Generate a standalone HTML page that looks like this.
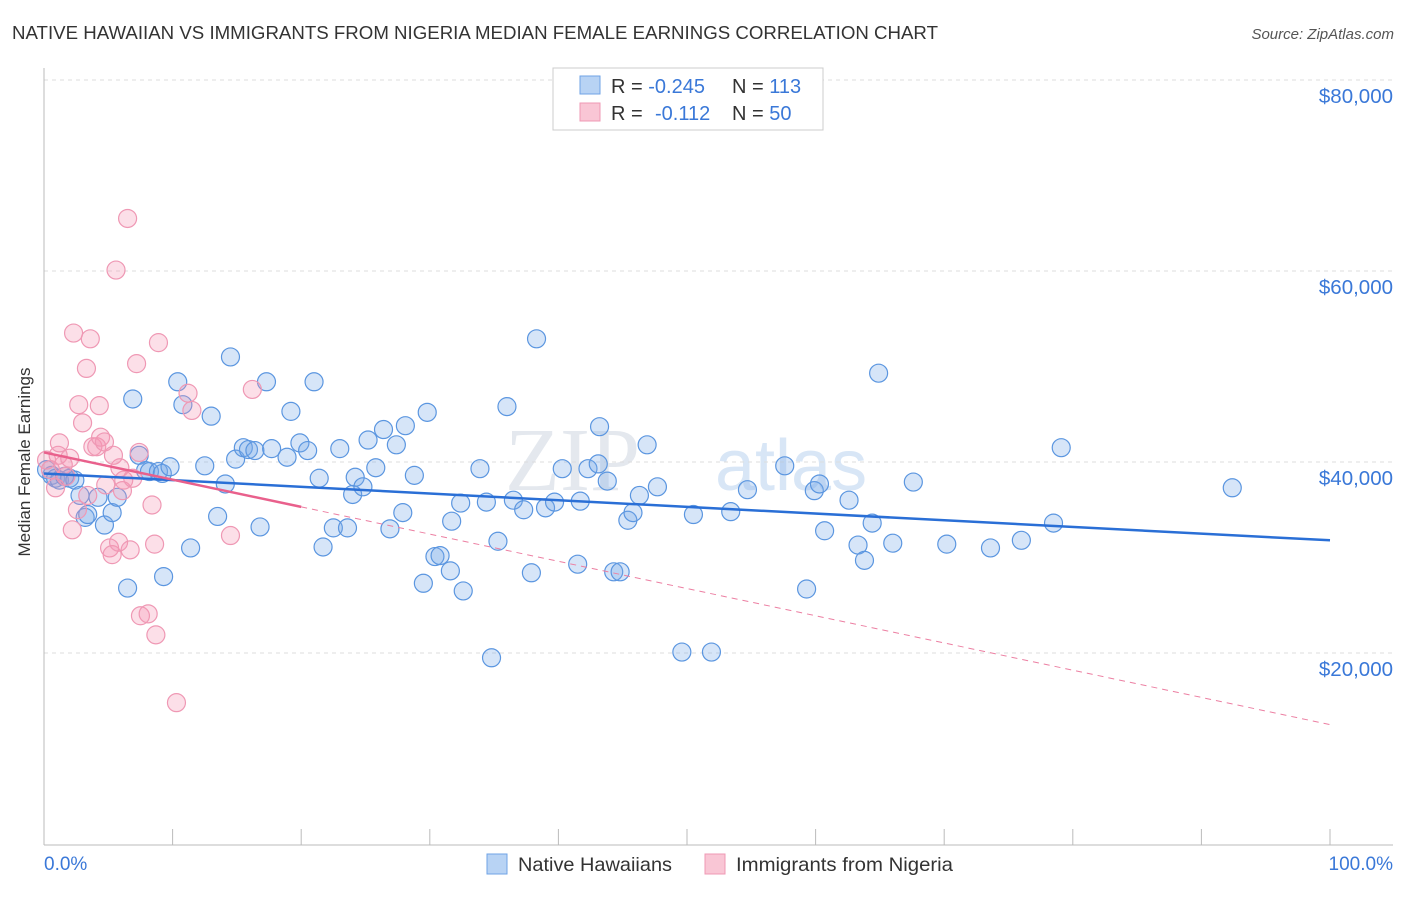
<!DOCTYPE html>
<html><head><meta charset="utf-8"><style>
body{margin:0;background:#fff;font-family:"Liberation Sans",sans-serif;}
</style></head><body>
<svg id="c" width="1406" height="892" xmlns="http://www.w3.org/2000/svg" style="font-family:'Liberation Sans',sans-serif">
<text x="12" y="39" font-size="18" fill="#333" textLength="926" lengthAdjust="spacingAndGlyphs">NATIVE HAWAIIAN VS IMMIGRANTS FROM NIGERIA MEDIAN FEMALE EARNINGS CORRELATION CHART</text>
<text x="1394" y="39" font-size="15" fill="#555" font-style="italic" text-anchor="end">Source: ZipAtlas.com</text>
<text x="640" y="490" font-size="90" fill="#e4e8ee" text-anchor="end" font-family="Liberation Serif">ZIP</text>
<text x="715" y="490" font-size="72" fill="#d8e6f6">atlas</text>
<g id="grid"></g>
<line x1="44" y1="68" x2="44" y2="845" stroke="#bbb"/>
<line x1="44" y1="845" x2="1393" y2="845" stroke="#bbb"/>
<g id="ticks"></g>
<g id="pts"></g>
<g id="lines"></g>
<text x="24" y="456" font-size="17" fill="#333" text-anchor="middle" transform="rotate(-90 30 456)">Median Female Earnings</text>
<text x="44" y="870" font-size="19" fill="#3a78d8">0.0%</text>
<text x="1393" y="870" font-size="19" fill="#3a78d8" text-anchor="end">100.0%</text>
<g>
<rect x="553" y="68" width="270" height="62" fill="#fff" stroke="#ccc"/>
<rect x="580" y="76" width="20" height="18" fill="#b8d3f4" stroke="#6fa3e6"/>
<rect x="580" y="103" width="20" height="18" fill="#f9c6d5" stroke="#ef98b4"/>
<text x="611" y="93" font-size="20" fill="#333">R = <tspan fill="#3a78d8">-0.245</tspan><tspan x="732">N = </tspan><tspan fill="#3a78d8">113</tspan></text>
<text x="611" y="120" font-size="20" fill="#333">R = <tspan x="655" fill="#3a78d8">-0.112</tspan><tspan x="732">N = </tspan><tspan fill="#3a78d8">50</tspan></text>
</g>
<g>
<rect x="487" y="854" width="20" height="20" fill="#b8d3f4" stroke="#6fa3e6"/>
<text x="518" y="871" font-size="19.5" fill="#333" textLength="154" lengthAdjust="spacingAndGlyphs">Native Hawaiians</text>
<rect x="705" y="854" width="20" height="20" fill="#f9c6d5" stroke="#ef98b4"/>
<text x="736" y="871" font-size="19.5" fill="#333" textLength="217" lengthAdjust="spacingAndGlyphs">Immigrants from Nigeria</text>
</g>
</svg>
<script>
const yTicks=[20000,40000,60000,80000];
const yTickLabels=["$20,000","$40,000","$60,000","$80,000"];
const blueX=[0.2,0.6,0.9,1.2,1.6,2.0,2.4,2.8,3.2,3.4,4.2,4.7,5.3,5.7,6.5,6.9,7.4,7.9,8.2,8.9,9.2,9.3,9.8,10.4,10.8,11.4,12.5,13.0,13.5,14.1,14.5,14.9,15.5,15.9,16.4,16.8,17.3,17.7,18.9,19.2,19.9,20.5,21.0,21.4,21.7,22.5,23.0,23.6,24.0,24.2,24.8,25.2,25.8,26.4,26.9,27.4,27.9,28.1,28.8,29.5,29.8,30.4,30.8,31.6,31.7,32.4,32.6,33.9,34.4,34.8,35.3,36.0,36.5,37.3,37.9,38.3,39.0,39.7,40.3,41.5,41.7,42.3,43.1,43.2,43.8,44.3,44.8,45.4,45.8,46.3,46.9,47.7,49.6,50.5,51.9,53.4,54.7,57.6,59.3,59.9,60.3,60.7,62.6,63.3,63.8,64.4,64.9,66.0,67.6,70.2,73.6,76.0,78.5,79.1,92.4];
const blueY=[39.2,38.6,38.3,38.1,38.5,38.3,38.1,36.5,34.2,34.5,36.3,33.4,34.7,36.3,26.8,46.6,40.7,39.1,39.0,39.0,38.8,28.0,39.5,48.4,46.0,31.0,39.6,44.8,34.3,37.7,51.0,40.3,41.5,41.3,41.2,33.2,48.4,41.4,40.5,45.3,42.0,41.2,48.4,38.3,31.1,33.1,41.4,33.1,36.6,38.4,37.4,42.3,39.4,43.4,33.0,41.8,34.7,43.8,38.6,27.3,45.2,30.1,30.2,28.6,33.8,35.7,26.5,39.3,35.8,19.5,31.7,45.8,36.0,35.0,28.4,52.9,35.2,35.8,39.3,29.3,35.9,39.3,39.8,43.7,38.0,28.5,28.5,33.9,34.7,36.5,41.8,37.4,20.1,34.5,20.1,34.8,37.1,39.6,26.7,37.0,37.7,32.8,36.0,31.3,29.7,33.6,49.3,31.5,37.9,31.4,31.0,31.8,33.6,41.5,37.3];
const pinkX=[0.2,0.5,0.9,1.1,1.2,1.5,1.7,2.0,2.2,2.3,2.6,2.7,3.0,3.3,3.4,3.6,3.8,4.1,4.3,4.4,4.7,4.8,5.1,5.3,5.4,5.6,5.8,5.9,6.1,6.2,6.5,6.7,6.9,7.2,7.4,7.5,8.1,8.4,8.6,8.7,8.9,10.3,11.2,11.5,14.5,16.2];
const pinkY=[40.2,39.2,37.3,40.7,42.0,39.7,38.5,40.4,32.9,53.5,35.0,46.0,44.1,49.8,36.5,52.9,41.6,41.6,45.9,42.6,42.1,37.6,31.0,30.3,40.7,60.1,31.6,39.4,37.0,38.1,65.5,30.8,38.3,50.3,41.0,23.9,24.1,35.5,31.4,21.9,52.5,14.8,47.2,45.4,32.3,47.6];
const blueTrend=[38.8,31.8];
const pinkTrend=[41.0,12.5];
const pinkSolidEnd=20;
const NS="http://www.w3.org/2000/svg";
function sx(p){return 44+p*12.86;}
function sy(k){return 844-k*9.55;}
function mk(t,a,parent){const e=document.createElementNS(NS,t);for(const k in a)e.setAttribute(k,a[k]);parent.appendChild(e);return e;}
const grid=document.getElementById('grid');
yTicks.forEach((v,i)=>{
 const y=sy(v/1000);
 const l=mk('line',{x1:44,x2:1393,y1:y,y2:y,stroke:'#ddd','stroke-dasharray':'4 4'},grid);
 
 
 const t=mk('text',{x:1393,y:y+23,'font-size':20.5,fill:'#3a78d8','text-anchor':'end'},grid);
 t.textContent=yTickLabels[i];
 
 
});
const ticks=document.getElementById('ticks');
for(let i=1;i<=10;i++){
 const x=sx(i*10);
 const l=mk('line',{x1:x,x2:x,y1:829,y2:845,stroke:'#bbb'},ticks);
 
 
}
const pts=document.getElementById('pts');
blueX.forEach((x,i)=>{
 const c=mk('circle',{cx:sx(x),cy:sy(blueY[i]),r:9,fill:'rgba(120,170,232,0.3)',stroke:'#5b96e0','stroke-width':1.2},pts);
 
 
});
pinkX.forEach((x,i)=>{
 const c=mk('circle',{cx:sx(x),cy:sy(pinkY[i]),r:9,fill:'rgba(244,150,180,0.3)',stroke:'#ef98b4','stroke-width':1.2},pts);
 
 
});
const lines=document.getElementById('lines');
const bl=mk('line',{x1:sx(0),y1:sy(blueTrend[0]),x2:sx(100),y2:sy(blueTrend[1]),stroke:'#2a6fd6','stroke-width':2.5},lines);


const pe=pinkTrend[0]+(pinkTrend[1]-pinkTrend[0])*pinkSolidEnd/100;
const pd=mk('line',{x1:sx(pinkSolidEnd),y1:sy(pe),x2:sx(100),y2:sy(pinkTrend[1]),stroke:'#ec7fa2','stroke-width':1,'stroke-dasharray':'6 5'},lines);


const ps=mk('line',{x1:sx(0),y1:sy(pinkTrend[0]),x2:sx(pinkSolidEnd),y2:sy(pe),stroke:'#e9608c','stroke-width':2.5},lines);


</script>
</body></html>
